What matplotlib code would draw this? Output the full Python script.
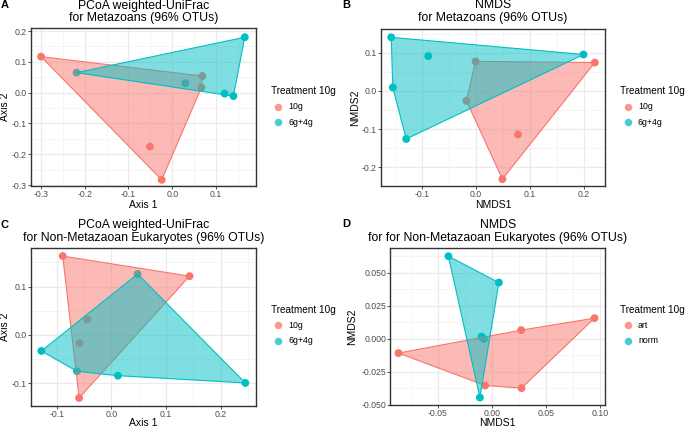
import numpy as np
import matplotlib
matplotlib.use("Agg")
import matplotlib.pyplot as plt
from matplotlib.patches import Polygon
from matplotlib.lines import Line2D

plt.rcParams['font.family'] = ['Liberation Sans', 'DejaVu Sans']

RED = '#F8766D'
TEAL = '#00BFC4'

# ---------------- data ----------------
# Panel A: PCoA weighted-UniFrac, Metazoans
a_10g_x = [-0.300, 0.069, 0.067, -0.051, -0.024]
a_10g_y = [0.117, 0.054, 0.017, -0.175, -0.283]
a_6g4g_x = [-0.219, 0.030, 0.120, 0.140, 0.166]
a_6g4g_y = [0.065, 0.031, -0.003, -0.011, 0.180]

# Panel B: NMDS, Metazoans
b_10g_x = [-0.001, -0.018, 0.221, 0.078, 0.049]
b_10g_y = [0.077, -0.026, 0.074, -0.114, -0.231]
b_6g4g_x = [-0.158, -0.089, -0.155, -0.130, 0.200]
b_6g4g_y = [0.140, 0.091, 0.009, -0.126, 0.095]

# Panel C: PCoA weighted-UniFrac, Non-Metazoan Eukaryotes
c_10g_x = [-0.089, 0.143, -0.059, -0.044, -0.058]
c_10g_y = [0.163, 0.1215, -0.130, 0.032, -0.017]
c_6g4g_x = [0.048, -0.128, 0.245, 0.012, -0.063]
c_6g4g_y = [0.126, -0.033, -0.099, -0.084, -0.075]

# Panel D: NMDS, Non-Metazoan Eukaryotes
d_art_x = [-0.0866, 0.0272, 0.0952, 0.0275, -0.0062]
d_art_y = [-0.0108, 0.0066, 0.0157, -0.0374, -0.0354]
d_norm_x = [-0.0403, 0.0065, -0.0111, -0.0096, -0.0074]
d_norm_y = [0.0627, 0.0427, -0.0445, 0.0017, -0.0002]

legend_title = "Treatment 10g"
groups_ab = ["10g", "6g+4g"]
groups_d = ["art", "norm"]

titles = [("PCoA weighted-UniFrac", "for Metazoans (96% OTUs)"),
          ("NMDS", "for Metazoans (96% OTUs)"),
          ("PCoA weighted-UniFrac", "for Non-Metazaoan Eukaryotes (96% OTUs)"),
          ("NMDS", "for for Non-Metazaoan Eukaryotes (96% OTUs)")]
xlabels = ["Axis 1", "NMDS1", "Axis 1", "NMDS1"]
ylabels = ["Axis 2", "NMDS2", "Axis 2", "NMDS2"]
letters = ["A", "B", "C", "D"]

a_xticks = [-0.3, -0.2, -0.1, 0.0, 0.1]
a_yticks = [-0.3, -0.2, -0.1, 0.0, 0.1, 0.2]
b_xticks = [-0.1, 0.0, 0.1, 0.2]
b_yticks = [-0.2, -0.1, 0.0, 0.1]
c_xticks = [-0.1, 0.0, 0.1, 0.2]
c_yticks = [-0.1, 0.0, 0.1]
d_xticks = [-0.05, 0.00, 0.05, 0.10]
d_yticks = [-0.050, -0.025, 0.000, 0.025, 0.050]
d_xticklabels = ["-0.05", "0.00", "0.05", "0.10"]
d_yticklabels = ["-0.050", "-0.025", "0.000", "0.025", "0.050"]


def hull(xs, ys):
    pts = sorted(set(zip(xs, ys)))
    def cross(o, a, b):
        return (a[0]-o[0])*(b[1]-o[1]) - (a[1]-o[1])*(b[0]-o[0])
    lower = []
    for p in pts:
        while len(lower) >= 2 and cross(lower[-2], lower[-1], p) <= 0:
            lower.pop()
        lower.append(p)
    upper = []
    for p in reversed(pts):
        while len(upper) >= 2 and cross(upper[-2], upper[-1], p) <= 0:
            upper.pop()
        upper.append(p)
    return np.array(lower[:-1] + upper[:-1])


W, H = 685, 428
fig = plt.figure(figsize=(W/100, H/100), dpi=100)

def fx(px):
    return px / W

def fy(py):
    return 1 - py / H

panels = [
    dict(rect=(31, 28.3, 255.7, 186), xlim=(-0.323, 0.191), ylim=(-0.303, 0.209),
         data=[(a_10g_x, a_10g_y), (a_6g4g_x, a_6g4g_y)], xt=a_xticks, yt=a_yticks,
         xl=None, yl=None, groups=groups_ab),
    dict(rect=(381, 29.3, 605, 186), xlim=(-0.177, 0.240), ylim=(-0.249, 0.161),
         data=[(b_10g_x, b_10g_y), (b_6g4g_x, b_6g4g_y)], xt=b_xticks, yt=b_yticks,
         xl=None, yl=None, groups=groups_ab),
    dict(rect=(31, 248.3, 255.7, 405.7), xlim=(-0.147, 0.264), ylim=(-0.146, 0.179),
         data=[(c_10g_x, c_10g_y), (c_6g4g_x, c_6g4g_y)], xt=c_xticks, yt=c_yticks,
         xl=None, yl=None, groups=groups_ab),
    dict(rect=(390.3, 248.3, 605.3, 405), xlim=(-0.0942, 0.1052), ylim=(-0.0502, 0.0687),
         data=[(d_art_x, d_art_y), (d_norm_x, d_norm_y)], xt=d_xticks, yt=d_yticks,
         xl=d_xticklabels, yl=d_yticklabels, groups=groups_d),
]

title_pos = [(5.5, 18.0), (5.5, 18.5), (225.0, 237.5), (224.5, 237.5)]
xlab_y = [205, 205, 423.5, 423.5]
ylab_x = [5.5, 355, 5.5, 352]
letter_pos = [(4.5, 4.5), (346.5, 4.5), (4.5, 225), (346.5, 224)]
legend_pos = [  # (title_x, title_y, marker_x, row1_y, row2_y, label_x)
    (270.7, 90.7, 278.3, 106.7, 122.3, 288.5),
    (619.5, 90.7, 627.7, 106.7, 122.3, 638.0),
    (270.7, 310.0, 278.3, 325.0, 340.7, 288.5),
    (619.5, 310.0, 627.7, 325.0, 340.7, 638.0),
]

colors = [RED, TEAL]

for i, p in enumerate(panels):
    l, t, r, b = p['rect']
    ax = fig.add_axes([fx(l), fy(b), fx(r - l), (b - t) / H])
    ax.set_xlim(*p['xlim'])
    ax.set_ylim(*p['ylim'])
    ax.set_xticks(p['xt'])
    ax.set_yticks(p['yt'])
    if p['xl'] is not None:
        ax.set_xticklabels(p['xl'])
        ax.set_yticklabels(p['yl'])
    else:
        ax.set_xticklabels(["{:.1f}".format(v) for v in p['xt']])
        ax.set_yticklabels(["{:.1f}".format(v) for v in p['yt']])
    # minor grid at midpoints
    xt = p['xt']; yt = p['yt']
    dx = xt[1] - xt[0]; dy = yt[1] - yt[0]
    xm = np.arange(xt[0] - dx / 2, p['xlim'][1], dx)
    ym = np.arange(yt[0] - dy / 2, p['ylim'][1], dy)
    for v in xm:
        if p['xlim'][0] < v < p['xlim'][1]:
            ax.axvline(v, color='#F2F2F2', lw=0.5, zorder=0)
    for v in ym:
        if p['ylim'][0] < v < p['ylim'][1]:
            ax.axhline(v, color='#F2F2F2', lw=0.5, zorder=0)
    for v in xt:
        ax.axvline(v, color='#EBEBEB', lw=0.9, zorder=0)
    for v in yt:
        ax.axhline(v, color='#EBEBEB', lw=0.9, zorder=0)
    for s in ax.spines.values():
        s.set_color('#333333')
        s.set_linewidth(1.0)
    ax.tick_params(axis='both', labelsize=6.3, colors='#4D4D4D', length=2.0,
                   width=0.6, pad=1.0)
    ax.tick_params(axis='both', color='#333333')

    # points first, then polygons on top
    for (xs, ys), c in zip(p['data'], colors):
        ax.scatter(xs, ys, s=32, color=c, edgecolor='none', zorder=2)
    for k, ((xs, ys), c) in enumerate(zip(p['data'], colors)):
        hv = hull(xs, ys)
        poly = Polygon(hv, closed=True, facecolor=c, alpha=0.5, edgecolor='none',
                       zorder=3 + k)
        ax.add_patch(poly)
        edge = Polygon(hv, closed=True, facecolor='none', edgecolor=c, lw=0.8,
                       zorder=3 + k)
        ax.add_patch(edge)

    cx = fx((l + r) / 2)
    fig.text(cx, fy(title_pos[i][0]), titles[i][0], ha='center', va='center', fontsize=8.8)
    fig.text(cx, fy(title_pos[i][1]), titles[i][1], ha='center', va='center', fontsize=8.8)
    fig.text(cx, fy(xlab_y[i]), xlabels[i], ha='center', va='center', fontsize=7.5)
    fig.text(fx(ylab_x[i]), fy((t + b) / 2), ylabels[i], ha='center', va='center',
             rotation=90, fontsize=7.5)
    fig.text(fx(letter_pos[i][0]), fy(letter_pos[i][1]), letters[i], ha='center',
             va='center', fontsize=8, fontweight='bold')

    tx, ty, mx, r1, r2, lx = legend_pos[i]
    fig.text(fx(tx), fy(ty), legend_title, ha='left', va='center', fontsize=7.2)
    for gy, g, c in zip([r1, r2], p['groups'], colors):
        fig.add_artist(Line2D([fx(mx)], [fy(gy)], marker='o', markersize=5.4,
                              color=c, alpha=0.75, markeredgewidth=0,
                              transform=fig.transFigure, linestyle='none'))
        fig.text(fx(lx), fy(gy), g, ha='left', va='center', fontsize=6.3)

fig.savefig("out.png", dpi=100)
